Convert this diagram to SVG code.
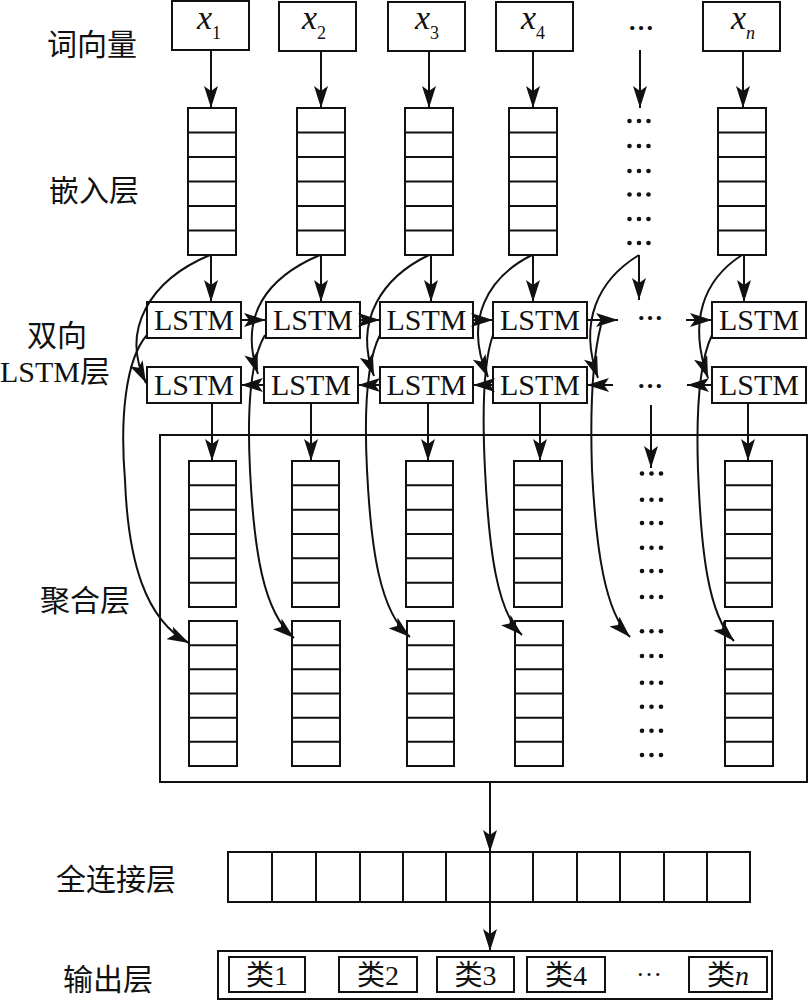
<svg xmlns="http://www.w3.org/2000/svg" width="809" height="1000" viewBox="0 0 809 1000">
<style>
.box{fill:#fff;stroke:#111;stroke-width:2}
.ln{fill:none;stroke:#111;stroke-width:2}
.arr{fill:none;stroke:#111;stroke-width:2;marker-end:url(#ah)}
.lab{font-family:"Noto Sans CJK SC","Noto Sans",sans-serif;font-size:30px;fill:#111}
.ser{font-family:"Liberation Serif","Noto Sans CJK SC",serif;fill:#111}
.lstm{font-family:"Liberation Serif",serif;font-size:30px;fill:#111;text-anchor:middle}
.xv{font-family:"Liberation Serif",serif;font-size:34px;font-style:italic;fill:#111}
.sub{font-size:18px;font-style:normal}
.dots{font-family:"Liberation Serif",serif;font-size:26px;font-weight:bold;fill:#111;text-anchor:middle}
.cls{font-family:"Liberation Serif","Noto Sans CJK SC",serif;font-size:28px;fill:#111;text-anchor:middle}
.dot{fill:#111}
</style>
<defs>
<marker id="ah" markerWidth="23" markerHeight="14" refX="22" refY="7" orient="auto" markerUnits="userSpaceOnUse">
<path d="M0,0 L22,7 L0,14 L5,7 Z" fill="#111"/>
</marker>
<g id="d3"><circle class="dot" cx="-9.5" cy="0" r="2.3"/><circle class="dot" cx="0" cy="0" r="2.3"/><circle class="dot" cx="9.5" cy="0" r="2.3"/></g>
</defs>
<rect width="809" height="1000" fill="#fff"/>

<g id="labels">
<text class="lab" x="47" y="55">词向量</text>
<text class="lab" x="49" y="201">嵌入层</text>
<text class="lab" x="27" y="346">双向</text>
<text class="ser" x="0" y="382" font-size="30">LSTM层</text>
<text class="lab" x="40" y="611">聚合层</text>
<text class="lab" x="56" y="890">全连接层</text>
<text class="lab" x="63" y="990">输出层</text>
</g>

<g id="inputs">
<g id="x1"><rect class="box" x="172" y="1" width="77" height="49"/><text class="xv" x="197" y="29">x<tspan class="sub" dy="10">1</tspan></text></g>
<g id="x2"><rect class="box" x="279" y="2" width="77" height="49"/><text class="xv" x="302" y="29">x<tspan class="sub" dy="10">2</tspan></text></g>
<g id="x3"><rect class="box" x="388" y="2" width="77" height="49"/><text class="xv" x="415" y="29">x<tspan class="sub" dy="10">3</tspan></text></g>
<g id="x4"><rect class="box" x="496" y="2" width="77" height="49"/><text class="xv" x="521" y="29">x<tspan class="sub" dy="10">4</tspan></text></g>
<g id="xdots"><text class="dots" x="641" y="30">…</text></g>
<g id="xn"><rect class="box" x="703" y="2" width="77" height="49"/><text class="xv" x="731" y="29">x<tspan class="sub" dy="10" style="font-style:italic">n</tspan></text></g>
</g>

<g id="embedding">
<g id="emb1"><rect class="box" x="188" y="108" width="48" height="147"/><path class="ln" d="M188,132.5H236M188,157H236M188,181.5H236M188,206H236M188,230.5H236"/></g>
<g id="emb2"><rect class="box" x="297" y="108" width="48" height="147"/><path class="ln" d="M297,132.5H345M297,157H345M297,181.5H345M297,206H345M297,230.5H345"/></g>
<g id="emb3"><rect class="box" x="405" y="108" width="48" height="147"/><path class="ln" d="M405,132.5H453M405,157H453M405,181.5H453M405,206H453M405,230.5H453"/></g>
<g id="emb4"><rect class="box" x="509" y="108" width="48" height="147"/><path class="ln" d="M509,132.5H557M509,157H557M509,181.5H557M509,206H557M509,230.5H557"/></g>
<g id="embdots">
<use href="#d3" x="639" y="121"/><use href="#d3" x="639" y="146"/><use href="#d3" x="639" y="171"/>
<use href="#d3" x="639" y="194.5"/><use href="#d3" x="639" y="219"/><use href="#d3" x="639" y="243"/>
</g>
<g id="embn"><rect class="box" x="718" y="108" width="48" height="147"/><path class="ln" d="M718,132.5H766M718,157H766M718,181.5H766M718,206H766M718,230.5H766"/></g>
</g>

<g id="lstm-forward">
<g id="f1"><rect class="box" x="147" y="302" width="94" height="36"/><text class="lstm" x="194" y="330">LSTM</text></g>
<g id="f2"><rect class="box" x="266" y="302" width="94" height="36"/><text class="lstm" x="313" y="330">LSTM</text></g>
<g id="f3"><rect class="box" x="380" y="302" width="93" height="36"/><text class="lstm" x="426.5" y="330">LSTM</text></g>
<g id="f4"><rect class="box" x="493" y="302" width="94" height="36"/><text class="lstm" x="540" y="330">LSTM</text></g>
<g id="fdots"><text class="dots" x="650" y="320">…</text></g>
<g id="fn"><rect class="box" x="712" y="302" width="94" height="36"/><text class="lstm" x="759" y="330">LSTM</text></g>
</g>

<g id="lstm-backward">
<g id="b1"><rect class="box" x="147" y="367" width="94" height="36"/><text class="lstm" x="194" y="395">LSTM</text></g>
<g id="b2"><rect class="box" x="264" y="367" width="94" height="36"/><text class="lstm" x="311" y="395">LSTM</text></g>
<g id="b3"><rect class="box" x="380" y="367" width="93" height="36"/><text class="lstm" x="426.5" y="395">LSTM</text></g>
<g id="b4"><rect class="box" x="493" y="367" width="94" height="36"/><text class="lstm" x="540" y="395">LSTM</text></g>
<g id="bdots"><text class="dots" x="650" y="388">…</text></g>
<g id="bn"><rect class="box" x="712" y="367" width="94" height="36"/><text class="lstm" x="759" y="395">LSTM</text></g>
</g>

<g id="aggregation">
<rect class="box" x="160" y="435" width="647" height="347" style="fill:none"/>
<g id="au1"><rect class="box" x="189" y="461" width="47" height="146"/><path class="ln" d="M189,485.3H236M189,509.7H236M189,534H236M189,558.3H236M189,582.7H236"/></g>
<g id="au2"><rect class="box" x="292" y="461" width="47" height="146"/><path class="ln" d="M292,485.3H339M292,509.7H339M292,534H339M292,558.3H339M292,582.7H339"/></g>
<g id="au3"><rect class="box" x="406" y="461" width="47" height="146"/><path class="ln" d="M406,485.3H453M406,509.7H453M406,534H453M406,558.3H453M406,582.7H453"/></g>
<g id="au4"><rect class="box" x="514" y="461" width="48" height="146"/><path class="ln" d="M514,485.3H562M514,509.7H562M514,534H562M514,558.3H562M514,582.7H562"/></g>
<g id="aun"><rect class="box" x="725" y="461" width="47" height="146"/><path class="ln" d="M725,485.3H772M725,509.7H772M725,534H772M725,558.3H772M725,582.7H772"/></g>
<g id="al1"><rect class="box" x="189" y="621" width="48" height="145"/><path class="ln" d="M189,645.2H237M189,669.3H237M189,693.5H237M189,717.7H237M189,741.8H237"/></g>
<g id="al2"><rect class="box" x="292" y="621" width="48" height="145"/><path class="ln" d="M292,645.2H340M292,669.3H340M292,693.5H340M292,717.7H340M292,741.8H340"/></g>
<g id="al3"><rect class="box" x="407" y="621" width="47" height="145"/><path class="ln" d="M407,645.2H454M407,669.3H454M407,693.5H454M407,717.7H454M407,741.8H454"/></g>
<g id="al4"><rect class="box" x="515" y="621" width="48" height="145"/><path class="ln" d="M515,645.2H563M515,669.3H563M515,693.5H563M515,717.7H563M515,741.8H563"/></g>
<g id="aln"><rect class="box" x="725" y="621" width="48" height="145"/><path class="ln" d="M725,645.2H773M725,669.3H773M725,693.5H773M725,717.7H773M725,741.8H773"/></g>
<g id="adots">
<use href="#d3" x="651.5" y="473.5"/><use href="#d3" x="651.5" y="499.7"/><use href="#d3" x="651.5" y="523"/>
<use href="#d3" x="651.5" y="547.7"/><use href="#d3" x="651.5" y="571"/><use href="#d3" x="651.5" y="597"/>
<use href="#d3" x="651.5" y="631.3"/><use href="#d3" x="651.5" y="656"/><use href="#d3" x="651.5" y="682.7"/>
<use href="#d3" x="651.5" y="706.7"/><use href="#d3" x="651.5" y="730.7"/><use href="#d3" x="651.5" y="755"/>
</g>
</g>

<g id="fully-connected">
<rect class="box" x="228" y="852" width="522" height="50"/>
<path class="ln" d="M272,852V902M316,852V902M360,852V902M403,852V902M446,852V902M490,852V902M533,852V902M577,852V902M620,852V902M664,852V902M707,852V902"/>
</g>

<g id="output">
<rect class="box" x="218" y="951" width="554" height="48"/>
<g id="c1"><rect class="box" x="229" y="957" width="76" height="35"/><text class="cls" x="267" y="985">类1</text></g>
<g id="c2"><rect class="box" x="339" y="957" width="78" height="35"/><text class="cls" x="378" y="985">类2</text></g>
<g id="c3"><rect class="box" x="437" y="957" width="77" height="35"/><text class="cls" x="475.5" y="985">类3</text></g>
<g id="c4"><rect class="box" x="527" y="957" width="78" height="35"/><text class="cls" x="566" y="985">类4</text></g>
<g id="cdots"><text class="dots" x="649" y="976" style="font-weight:normal">…</text></g>
<g id="cn"><rect class="box" x="689" y="957" width="78" height="35"/><text class="cls" x="728" y="985">类<tspan font-style="italic">n</tspan></text></g>
</g>

<g id="connectors">
<path class="arr" d="M211,50V108"/>
<path class="arr" d="M321,51V108"/>
<path class="arr" d="M429,51V108"/>
<path class="arr" d="M533,51V108"/>
<path class="arr" d="M640,50V108"/>
<path class="arr" d="M743,51V108"/>
<path class="arr" d="M211,255V302"/>
<path class="arr" d="M321,255V302"/>
<path class="arr" d="M431,255V302"/>
<path class="arr" d="M533,255V302"/>
<path class="arr" d="M639,255V300"/>
<path class="arr" d="M744,255V302"/>
<path class="arr" d="M210,255C150,280 120,330 146,383"/>
<path class="arr" d="M320,255C268,277 238,315 258,374"/>
<path class="arr" d="M429,255C383,277 353,320 374,376"/>
<path class="arr" d="M532,255C488,277 463,320 488,377"/>
<path class="arr" d="M639,255C598,280 578,322 598,378"/>
<path class="arr" d="M742,255C703,280 688,322 708,378"/>
<path class="arr" d="M241,320H266"/>
<path class="arr" d="M360,320H380"/>
<path class="arr" d="M473,320H493"/>
<path class="arr" d="M587,320H618"/>
<path class="arr" d="M686,320H712"/>
<path class="arr" d="M264,385H241"/>
<path class="arr" d="M380,385H358"/>
<path class="arr" d="M493,385H473"/>
<path class="arr" d="M613,385H587"/>
<path class="arr" d="M712,385H687"/>
<path class="arr" d="M212,403V461"/>
<path class="arr" d="M311,403V461"/>
<path class="arr" d="M428,403V461"/>
<path class="arr" d="M540,403V461"/>
<path class="arr" d="M651,405V468"/>
<path class="arr" d="M748,403V461"/>
<path class="arr" d="M147,335C125,360 120,420 125,480C128,560 145,620 189,643"/>
<path class="arr" d="M265,335C250,360 247,410 250,470C254,550 263,612 294,638"/>
<path class="arr" d="M380,335C367,360 364,410 367,470C371,550 380,612 410,637"/>
<path class="arr" d="M493,335C484,360 482,410 485,470C489,550 497,612 522,635"/>
<path class="arr" d="M601,325C592,360 590,410 592,470C596,550 605,612 630,637"/>
<path class="arr" d="M712,335C700,360 696,410 698,470C701,550 708,615 734,641"/>
<path class="arr" d="M490,782V852"/>
<path class="arr" d="M490,902V951"/>
</g>
</svg>
